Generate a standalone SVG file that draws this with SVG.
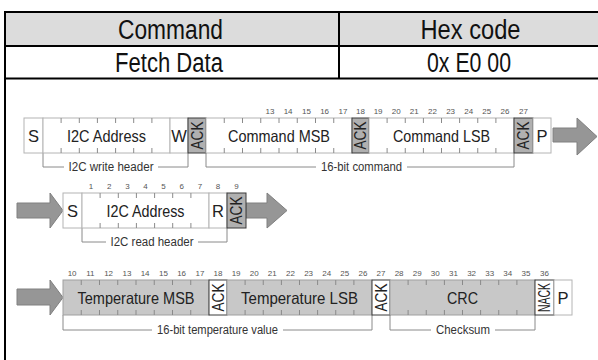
<svg xmlns="http://www.w3.org/2000/svg" width="598" height="360" viewBox="0 0 598 360">
<defs>
<style>
.tbl{stroke:#000;stroke-width:2;fill:none}
.hd{font-family:"Liberation Sans",Arial,sans-serif;font-size:27px;fill:#111;text-anchor:middle}
.c{fill:#fff;stroke:#b4b4b4;stroke-width:1}
.g{fill:#c8c8c8;stroke:#a0a0a0;stroke-width:1}
.ak{fill:#b0b0b0;stroke:#3a3a3a;stroke-width:1}
.akw{fill:#fff;stroke:#3a3a3a;stroke-width:1}
.lb{font-family:"Liberation Sans",Arial,sans-serif;font-size:16.5px;fill:#222;text-anchor:middle}
.rv{font-family:"Liberation Sans",Arial,sans-serif;font-size:16px;fill:#222;text-anchor:middle}
.n{font-family:"Liberation Sans",Arial,sans-serif;font-size:8px;fill:#555;text-anchor:middle}
.tk{stroke:#8a8a8a;stroke-width:1}
.br{fill:none;stroke:#8a8a8a;stroke-width:1}
.bt{font-family:"Liberation Sans",Arial,sans-serif;font-size:12px;fill:#333;text-anchor:middle}
.ar{fill:#969696;stroke:#808080;stroke-width:1}
</style>
</defs>
<rect x="0" y="0" width="598" height="360" fill="#fff"/>
<g id="table">
<rect x="5" y="12" width="600" height="34" fill="#dcdcdc"/>
<line class="tbl" x1="4" y1="12" x2="598" y2="12"/>
<line class="tbl" x1="4" y1="46" x2="598" y2="46"/>
<line class="tbl" x1="4" y1="78.5" x2="598" y2="78.5"/>
<line class="tbl" x1="5" y1="11" x2="5" y2="360"/>
<line class="tbl" x1="339" y1="12" x2="339" y2="78.5"/>
<text class="hd" x="170.5" y="39" textLength="105" lengthAdjust="spacingAndGlyphs">Command</text>
<text class="hd" x="470.5" y="39" textLength="100" lengthAdjust="spacingAndGlyphs">Hex code</text>
<text class="hd" x="169" y="72" textLength="108" lengthAdjust="spacingAndGlyphs">Fetch Data</text>
<text class="hd" x="469" y="72" textLength="84" lengthAdjust="spacingAndGlyphs">0x E0 00</text>
</g>

<g id="connectors">
<polygon class="ar" points="553,128 577,128 577,118 597,136.5 577,155 577,142 553,142"/>
<polygon class="ar" points="17,203 50,203 50,193 63,210.5 50,228 50,218 17,218"/>
<polygon class="ar" points="246,203 267,203 267,193 287,210.5 267,228 267,218 246,218"/>
<polygon class="ar" points="17,289 50,289 50,280 63,297.5 50,315 50,305 17,305"/>
<path class="br" d="M43,153V167H188V153"/>
<path class="br" d="M206,153V167H514V153"/>
<path class="br" d="M82,228V242H227V228"/>
<path class="br" d="M63,315V330H372V315"/>
<path class="br" d="M390,315V330H535V315"/>
<rect x="64" y="160" width="94" height="14" fill="#fff"/>
<text class="bt" x="111" y="171" textLength="85" lengthAdjust="spacingAndGlyphs">I2C write header</text>
<rect x="316" y="160" width="91" height="14" fill="#fff"/>
<text class="bt" x="361.5" y="171" textLength="81" lengthAdjust="spacingAndGlyphs">16-bit command</text>
<rect x="106" y="235" width="92" height="14" fill="#fff"/>
<text class="bt" x="152" y="246" textLength="83" lengthAdjust="spacingAndGlyphs">I2C read header</text>
<rect x="152" y="323" width="131" height="14" fill="#fff"/>
<text class="bt" x="217.5" y="334" textLength="121" lengthAdjust="spacingAndGlyphs">16-bit temperature value</text>
<rect x="431" y="323" width="64" height="14" fill="#fff"/>
<text class="bt" x="463" y="334" textLength="54" lengthAdjust="spacingAndGlyphs">Checksum</text>
</g>

<!-- Row 1 -->
<g id="w-s"><rect class="c" x="24" y="118" width="19" height="35"/><text class="lb" x="33.5" y="141.5">S</text></g>
<g id="w-addr"><rect class="c" x="43" y="118" width="127" height="35"/>
<path class="tk" d="M61.1,118v5M79.3,118v5M97.4,118v5M115.6,118v5M133.7,118v5M151.9,118v5M61.1,153v-5M79.3,153v-5M97.4,153v-5M115.6,153v-5M133.7,153v-5M151.9,153v-5"/>
<text class="lb" x="106.5" y="141.5" textLength="79" lengthAdjust="spacingAndGlyphs">I2C Address</text></g>
<g id="w-w"><rect class="c" x="170" y="118" width="18" height="35"/><text class="lb" x="179" y="141.5">W</text></g>
<g id="w-ack1"><rect class="ak" x="188" y="118" width="18" height="35"/><text class="rv" transform="translate(197,135.5) rotate(-90)" y="5.5" textLength="28" lengthAdjust="spacingAndGlyphs">ACK</text></g>
<g id="cmd-msb"><rect class="c" x="206" y="118" width="146" height="35"/>
<path class="tk" d="M224.25,118v5M242.5,118v5M260.75,118v5M279,118v5M297.25,118v5M315.5,118v5M333.75,118v5M224.25,153v-5M242.5,153v-5M260.75,153v-5M279,153v-5M297.25,153v-5M315.5,153v-5M333.75,153v-5"/>
<text class="lb" x="279" y="141.5" textLength="102" lengthAdjust="spacingAndGlyphs">Command MSB</text>
<text class="n" x="269.9" y="114">13</text><text class="n" x="288.1" y="114">14</text><text class="n" x="306.4" y="114">15</text><text class="n" x="324.6" y="114">16</text><text class="n" x="342.9" y="114">17</text></g>
<g id="w-ack2"><rect class="ak" x="352" y="118" width="17" height="35"/><text class="rv" transform="translate(360.5,135.5) rotate(-90)" y="5.5" textLength="28" lengthAdjust="spacingAndGlyphs">ACK</text><text class="n" x="360.5" y="114">18</text></g>
<g id="cmd-lsb"><rect class="c" x="369" y="118" width="145" height="35"/>
<path class="tk" d="M387.1,118v5M405.25,118v5M423.4,118v5M441.5,118v5M459.6,118v5M477.75,118v5M495.9,118v5M387.1,153v-5M405.25,153v-5M423.4,153v-5M441.5,153v-5M459.6,153v-5M477.75,153v-5M495.9,153v-5"/>
<text class="lb" x="441.5" y="141.5" textLength="97" lengthAdjust="spacingAndGlyphs">Command LSB</text>
<text class="n" x="378.1" y="114">19</text><text class="n" x="396.2" y="114">20</text><text class="n" x="414.3" y="114">21</text><text class="n" x="432.4" y="114">22</text><text class="n" x="450.6" y="114">23</text><text class="n" x="468.7" y="114">24</text><text class="n" x="486.8" y="114">25</text><text class="n" x="505" y="114">26</text></g>
<g id="w-ack3"><rect class="ak" x="514" y="118" width="19" height="35"/><text class="rv" transform="translate(523.5,135.5) rotate(-90)" y="5.5" textLength="28" lengthAdjust="spacingAndGlyphs">ACK</text><text class="n" x="523.5" y="114">27</text></g>
<g id="w-p"><rect class="c" x="533" y="118" width="18" height="35"/><text class="lb" x="542" y="141.5">P</text></g>

<!-- Row 2 -->
<g id="r-s"><rect class="c" x="63" y="193" width="19" height="35"/><text class="lb" x="72.5" y="216.5">S</text></g>
<g id="r-addr"><rect class="c" x="82" y="193" width="127" height="35"/>
<path class="tk" d="M100.1,193v5M118.3,193v5M136.4,193v5M154.6,193v5M172.7,193v5M190.9,193v5M100.1,228v-5M118.3,228v-5M136.4,228v-5M154.6,228v-5M172.7,228v-5M190.9,228v-5"/>
<text class="lb" x="145.5" y="216.5" textLength="78" lengthAdjust="spacingAndGlyphs">I2C Address</text>
<text class="n" x="91.1" y="189">1</text><text class="n" x="109.2" y="189">2</text><text class="n" x="127.4" y="189">3</text><text class="n" x="145.5" y="189">4</text><text class="n" x="163.6" y="189">5</text><text class="n" x="181.8" y="189">6</text><text class="n" x="199.9" y="189">7</text></g>
<g id="r-r"><rect class="c" x="209" y="193" width="18" height="35"/><text class="lb" x="218" y="216.5">R</text><text class="n" x="218" y="189">8</text></g>
<g id="r-ack"><rect class="ak" x="227" y="193" width="19" height="35"/><text class="rv" transform="translate(236.5,210.5) rotate(-90)" y="5.5" textLength="28" lengthAdjust="spacingAndGlyphs">ACK</text><text class="n" x="236.5" y="189">9</text></g>

<!-- Row 3 -->
<g id="t-msb"><rect class="g" x="63" y="280" width="146" height="35"/>
<path class="tk" d="M81.25,280v5M99.5,280v5M117.75,280v5M136,280v5M154.25,280v5M172.5,280v5M190.75,280v5M81.25,315v-5M99.5,315v-5M117.75,315v-5M136,315v-5M154.25,315v-5M172.5,315v-5M190.75,315v-5"/>
<text class="lb" x="136" y="303.5" textLength="117" lengthAdjust="spacingAndGlyphs">Temperature MSB</text>
<text class="n" x="72.1" y="276">10</text><text class="n" x="90.4" y="276">11</text><text class="n" x="108.6" y="276">12</text><text class="n" x="126.9" y="276">13</text><text class="n" x="145.1" y="276">14</text><text class="n" x="163.4" y="276">15</text><text class="n" x="181.6" y="276">16</text><text class="n" x="199.9" y="276">17</text></g>
<g id="t-ack1"><rect class="akw" x="209" y="280" width="18" height="35"/><text class="rv" transform="translate(218,297.5) rotate(-90)" y="5.5" textLength="28" lengthAdjust="spacingAndGlyphs">ACK</text><text class="n" x="218" y="276">18</text></g>
<g id="t-lsb"><rect class="g" x="227" y="280" width="145" height="35"/>
<path class="tk" d="M245.1,280v5M263.25,280v5M281.4,280v5M299.5,280v5M317.6,280v5M335.75,280v5M353.9,280v5M245.1,315v-5M263.25,315v-5M281.4,315v-5M299.5,315v-5M317.6,315v-5M335.75,315v-5M353.9,315v-5"/>
<text class="lb" x="299.5" y="303.5" textLength="117" lengthAdjust="spacingAndGlyphs">Temperature LSB</text>
<text class="n" x="236.1" y="276">19</text><text class="n" x="254.2" y="276">20</text><text class="n" x="272.3" y="276">21</text><text class="n" x="290.4" y="276">22</text><text class="n" x="308.6" y="276">23</text><text class="n" x="326.7" y="276">24</text><text class="n" x="344.8" y="276">25</text><text class="n" x="362.9" y="276">26</text></g>
<g id="t-ack2"><rect class="akw" x="372" y="280" width="18" height="35"/><text class="rv" transform="translate(381,297.5) rotate(-90)" y="5.5" textLength="28" lengthAdjust="spacingAndGlyphs">ACK</text><text class="n" x="381" y="276">27</text></g>
<g id="t-crc"><rect class="g" x="390" y="280" width="145" height="35"/>
<path class="tk" d="M408.1,280v5M426.25,280v5M444.4,280v5M462.5,280v5M480.6,280v5M498.75,280v5M516.9,280v5M408.1,315v-5M426.25,315v-5M444.4,315v-5M462.5,315v-5M480.6,315v-5M498.75,315v-5M516.9,315v-5"/>
<text class="lb" x="462.5" y="303.5" textLength="31" lengthAdjust="spacingAndGlyphs">CRC</text>
<text class="n" x="399.1" y="276">28</text><text class="n" x="417.2" y="276">29</text><text class="n" x="435.3" y="276">30</text><text class="n" x="453.4" y="276">31</text><text class="n" x="471.6" y="276">32</text><text class="n" x="489.7" y="276">33</text><text class="n" x="507.8" y="276">34</text><text class="n" x="525.9" y="276">35</text></g>
<g id="t-nack"><rect class="akw" x="535" y="280" width="19" height="35"/><text class="rv" transform="translate(544.5,297.5) rotate(-90)" y="5" font-size="14" textLength="29" lengthAdjust="spacingAndGlyphs">NACK</text><text class="n" x="544.5" y="276">36</text></g>
<g id="t-p"><rect class="c" x="554" y="280" width="18" height="35"/><text class="lb" x="563" y="303.5">P</text></g>
</svg>
